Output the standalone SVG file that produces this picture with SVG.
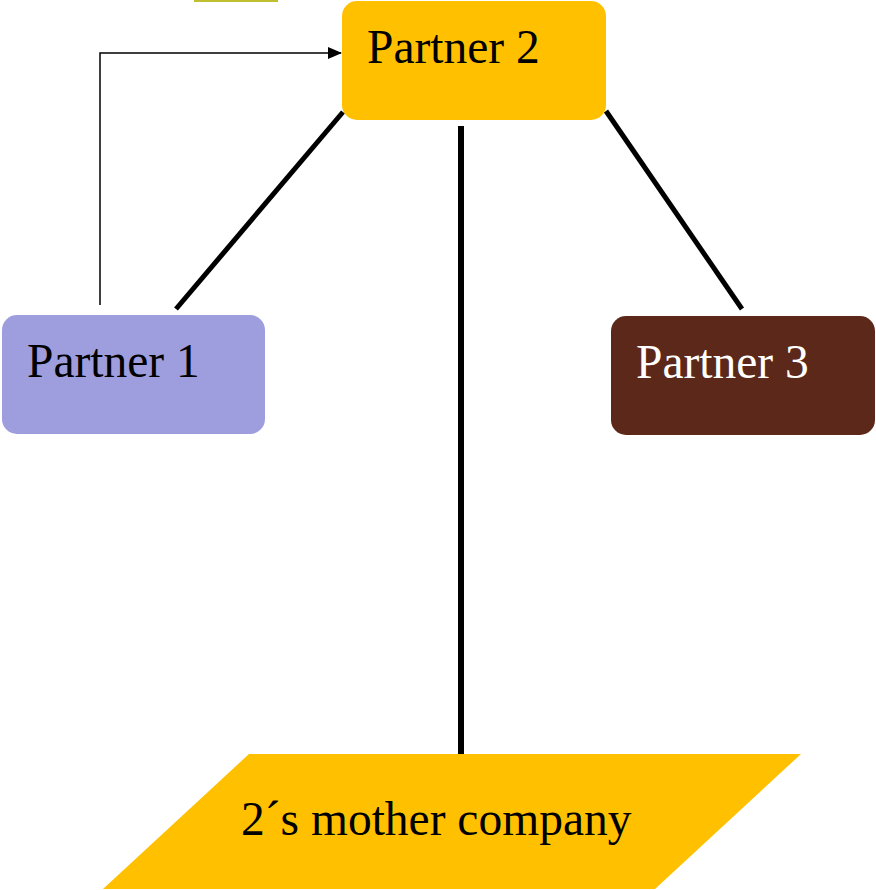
<svg xmlns="http://www.w3.org/2000/svg" width="876" height="890" viewBox="0 0 876 890">
<style>
.lbl{font-family:"Liberation Serif","Times New Roman",serif;font-size:47.5px}
.thick{stroke:#000;stroke-width:5;fill:none}
.thin{stroke:#000;stroke-width:1.5;fill:none}
</style>
<defs>
<marker id="arr" markerWidth="14" markerHeight="14" refX="13" refY="7" orient="auto" markerUnits="userSpaceOnUse">
<path d="M0,1 L14,7 L0,13 z" fill="#000"/>
</marker>
</defs>
<rect x="195" y="-20" width="82" height="21" fill="#ffffcc" stroke="#bfbf30" stroke-width="2"/>
<g id="connectors">
<line class="thick" x1="343" y1="112" x2="176" y2="309"/>
<line class="thick" x1="606" y1="111" x2="742" y2="309"/>
<line x1="461" y1="126" x2="461" y2="754" stroke="#000" stroke-width="6"/>
<polyline class="thin" points="100,305 100,53 341,53" marker-end="url(#arr)"/>
</g>
<g id="partner2">
<rect x="342" y="1" width="264" height="119" rx="15" fill="#FFC000"/>
<text class="lbl" x="367" y="63" fill="#000">Partner 2</text>
</g>
<g id="partner1">
<rect x="2" y="315" width="263" height="119" rx="15" fill="#9E9DDE"/>
<text class="lbl" x="27" y="377" fill="#000">Partner 1</text>
</g>
<g id="partner3">
<rect x="611" y="316" width="264" height="119" rx="15" fill="#5C2819"/>
<text class="lbl" x="636" y="378" fill="#fff">Partner 3</text>
</g>
<g id="mother">
<polygon points="249,754 801,754 655,889 103,889" fill="#FFC000"/>
<text class="lbl" x="241" y="835" fill="#000">2´s mother company</text>
</g>
</svg>
